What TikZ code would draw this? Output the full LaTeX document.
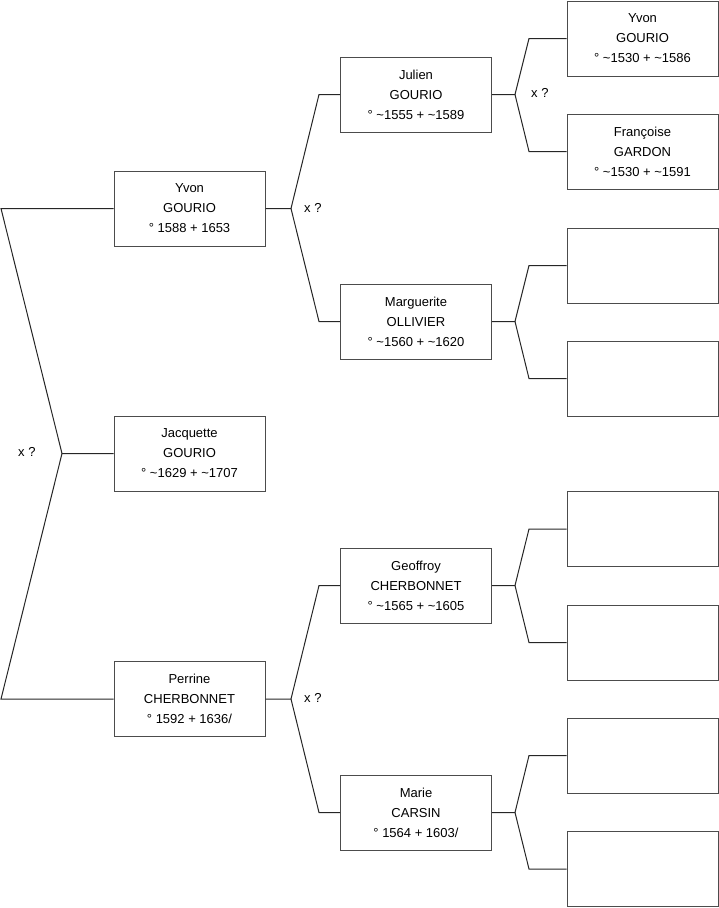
\documentclass[tikz,border=0pt]{standalone}
\usepackage{fontspec}
\setmainfont{Liberation Sans}
\begin{document}
\begin{tikzpicture}[x=1pt,y=-1pt,
  person/.style={draw=black!70,line width=1pt,rectangle,minimum width=151pt,minimum height=75pt,inner sep=0pt,align=center,font=\fontsize{13}{20}\selectfont},
  link/.style={draw=black!85,line width=1pt},
  lbl/.style={font=\fontsize{13}{16}\selectfont,inner sep=0pt}]
\useasboundingbox (0,0) rectangle (719,908);
% generation 1
\node[person] (yvon) at (189.5,208.5) {Yvon\\GOURIO\\° 1588 + 1653};
\node[person] (jacq) at (189.5,453.5) {Jacquette\\GOURIO\\° \textasciitilde1629 + \textasciitilde1707};
\node[person] (perr) at (189.5,699) {Perrine\\CHERBONNET\\° 1592 + 1636/};
% generation 2
\node[person] (jul) at (416,94.5) {Julien\\GOURIO\\° \textasciitilde1555 + \textasciitilde1589};
\node[person] (marg) at (416,321.5) {Marguerite\\OLLIVIER\\° \textasciitilde1560 + \textasciitilde1620};
\node[person] (geof) at (416,585.5) {Geoffroy\\CHERBONNET\\° \textasciitilde1565 + \textasciitilde1605};
\node[person] (mari) at (416,812.5) {Marie\\CARSIN\\° 1564 + 1603/};
% generation 3
\node[person] (g1) at (642.5,38.5) {Yvon\\GOURIO\\° \textasciitilde1530 + \textasciitilde1586};
\node[person] (g2) at (642.5,151.5) {Françoise\\GARDON\\° \textasciitilde1530 + \textasciitilde1591};
\node[person] (g3) at (642.5,265.5) {};
\node[person] (g4) at (642.5,378.5) {};
\node[person] (g5) at (642.5,529) {};
\node[person] (g6) at (642.5,642.5) {};
\node[person] (g7) at (642.5,755.5) {};
\node[person] (g8) at (642.5,869) {};
% fork coordinates
\coordinate (la) at (1,208.5);
\coordinate (lj) at (62,453.5);
\coordinate (lb) at (1,699);
\coordinate (yj) at (291,208.5);
\coordinate (ya) at (319,94.5);
\coordinate (yb) at (319,321.5);
\coordinate (pj) at (291,699);
\coordinate (pa) at (319,585.5);
\coordinate (pb) at (319,812.5);
\coordinate (jj) at (515,94.5);
\coordinate (ja) at (529,38.5);
\coordinate (jb) at (529,151.5);
\coordinate (mj) at (515,321.5);
\coordinate (ma) at (529,265.5);
\coordinate (mb) at (529,378.5);
\coordinate (gj) at (515,585.5);
\coordinate (ga) at (529,529);
\coordinate (gb) at (529,642.5);
\coordinate (rj) at (515,812.5);
\coordinate (ra) at (529,755.5);
\coordinate (rb) at (529,869);
% connectors
\draw[link] (yvon.west) -- (la) -- (lj) -- (jacq.west);
\draw[link] (lj) -- (lb) -- (perr.west);
\draw[link] (yvon.east) -- (yj) -- (ya) -- (jul.west);
\draw[link] (yj) -- (yb) -- (marg.west);
\draw[link] (perr.east) -- (pj) -- (pa) -- (geof.west);
\draw[link] (pj) -- (pb) -- (mari.west);
\draw[link] (jul.east) -- (jj) -- (ja) -- (g1.west);
\draw[link] (jj) -- (jb) -- (g2.west);
\draw[link] (marg.east) -- (mj) -- (ma) -- (g3.west);
\draw[link] (mj) -- (mb) -- (g4.west);
\draw[link] (geof.east) -- (gj) -- (ga) -- (g5.west);
\draw[link] (gj) -- (gb) -- (g6.west);
\draw[link] (mari.east) -- (rj) -- (ra) -- (g7.west);
\draw[link] (rj) -- (rb) -- (g8.west);
% labels
\node[lbl,anchor=west] (x1) at (18,451.5) {x ?};
\node[lbl,anchor=west] (x2) at (304,207.5) {x ?};
\node[lbl,anchor=west] (x3) at (304,697.5) {x ?};
\node[lbl,anchor=west] (x4) at (531,92.5) {x ?};
\end{tikzpicture}
\end{document}
